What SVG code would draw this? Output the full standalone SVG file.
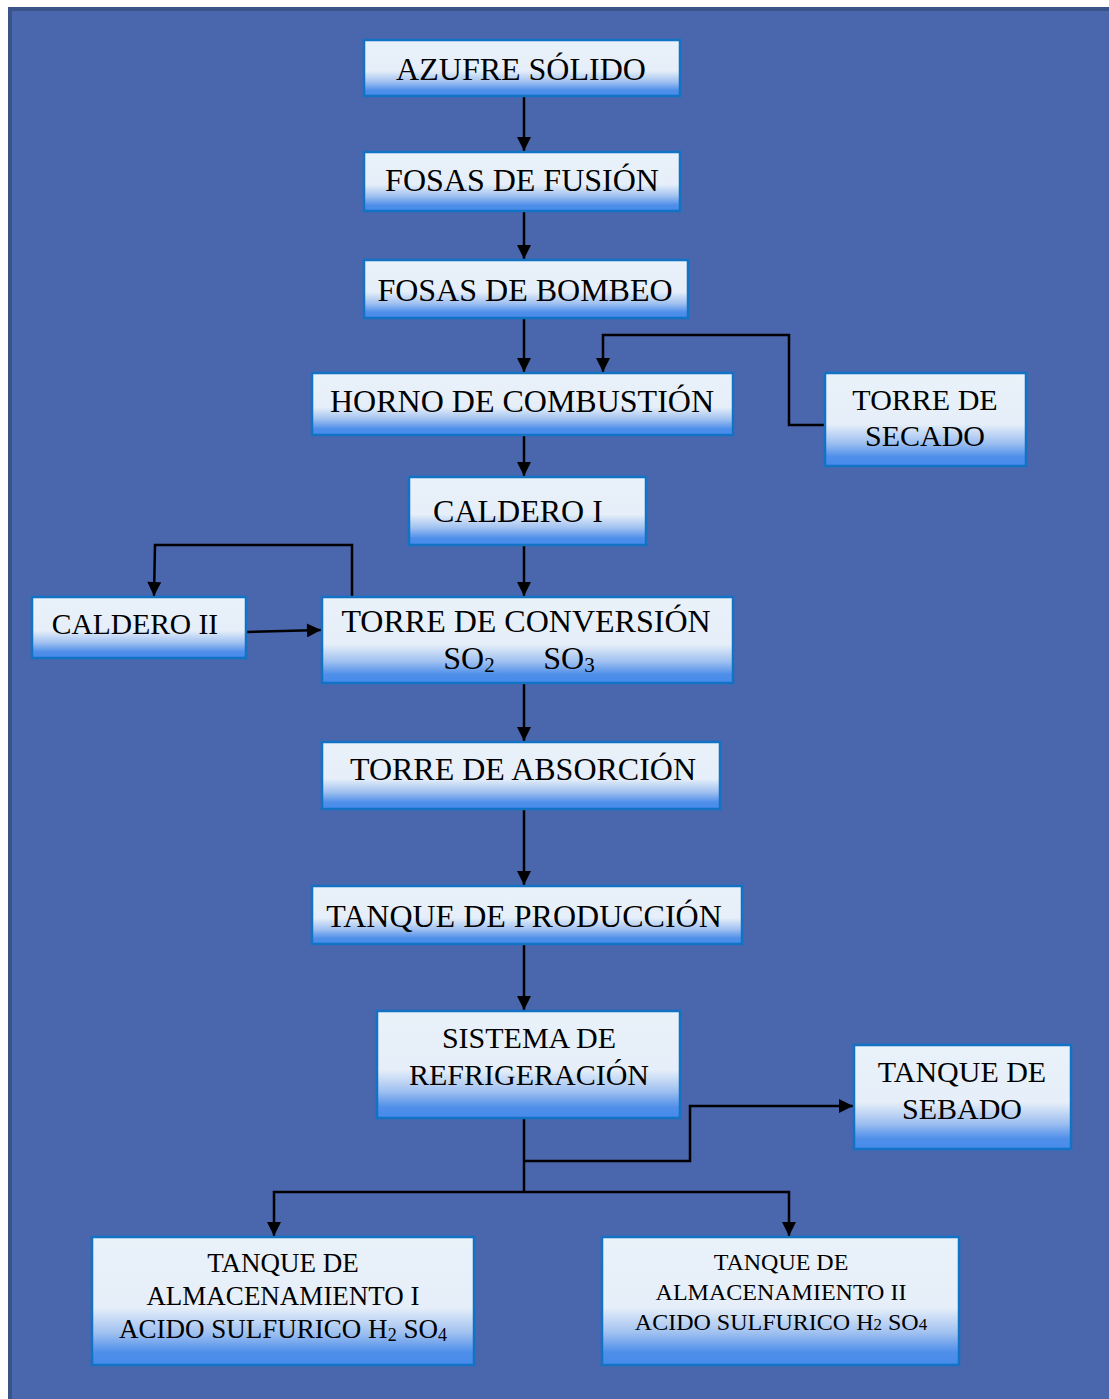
<svg xmlns="http://www.w3.org/2000/svg" width="1109" height="1399" viewBox="0 0 1109 1399">
  <defs>
    <linearGradient id="boxFill" x1="0" y1="0" x2="0" y2="1">
      <stop offset="0" stop-color="#e9f1f9"/>
      <stop offset="0.55" stop-color="#e6eff9"/>
      <stop offset="0.75" stop-color="#9fc0f0"/>
      <stop offset="0.9" stop-color="#4f8fea"/>
      <stop offset="1" stop-color="#468aea"/>
    </linearGradient>
    <marker id="arrow" viewBox="0 0 10 10" refX="10" refY="5" markerWidth="6.4" markerHeight="5.6" markerUnits="strokeWidth" orient="auto">
      <path d="M0,0 L10,5 L0,10 Z" fill="#000"/>
    </marker>
    <style>
      .box { fill: url(#boxFill); stroke: #1272c4; stroke-width: 2.5; }
      .lbl { font-family: "Liberation Serif", "Times New Roman", serif; fill: #000; text-anchor: middle; }
      .conn { fill: none; stroke: #000; stroke-width: 2.5; }
      .conn.a { marker-end: url(#arrow); }
    </style>
  </defs>

  <!-- page background -->
  <rect x="0" y="0" width="1109" height="1399" fill="#ffffff"/>
  <rect x="10" y="9" width="1101" height="1392" fill="#4a67ae" stroke="#3a5389" stroke-width="4"/>

  <!-- connectors -->
  <g id="connectors">
    <path class="conn a" d="M524,96 V151"/>
    <path class="conn a" d="M524,211 V259"/>
    <path class="conn a" d="M524,318 V372"/>
    <path class="conn a" d="M825,425 H789 V335 H603 V372"/>
    <path class="conn a" d="M524,435 V476"/>
    <path class="conn a" d="M524,545 V596"/>
    <path class="conn a" d="M352,597 V545 H155 L154,596"/>
    <path class="conn a" d="M246,632 L321,630"/>
    <path class="conn a" d="M524,683 V741"/>
    <path class="conn a" d="M524,809 V885"/>
    <path class="conn a" d="M524,944 V1010"/>
    <path class="conn" d="M524,1118 V1192"/>
    <path class="conn a" d="M524,1161 H690 V1106 H853"/>
    <path class="conn a" d="M524,1192 H274 V1236"/>
    <path class="conn a" d="M524,1192 H789 V1236"/>
  </g>

  <g id="azufre-solido">
    <rect class="box" x="364" y="40" width="316" height="56"/>
    <text class="lbl" x="521" y="80" font-size="32">AZUFRE SÓLIDO</text>
  </g>
  <g id="fosas-fusion">
    <rect class="box" x="364" y="152" width="316" height="59"/>
    <text class="lbl" x="522" y="191" font-size="32">FOSAS DE FUSIÓN</text>
  </g>
  <g id="fosas-bombeo">
    <rect class="box" x="364" y="260" width="324" height="58"/>
    <text class="lbl" x="525" y="301" font-size="32">FOSAS DE BOMBEO</text>
  </g>
  <g id="horno-combustion">
    <rect class="box" x="312" y="373" width="421" height="62"/>
    <text class="lbl" x="522" y="412" font-size="32">HORNO DE COMBUSTIÓN</text>
  </g>
  <g id="torre-secado">
    <rect class="box" x="825" y="373" width="201" height="93"/>
    <text class="lbl" x="925" y="410" font-size="30">TORRE DE</text>
    <text class="lbl" x="925" y="446" font-size="30">SECADO</text>
  </g>
  <g id="caldero-1">
    <rect class="box" x="409" y="477" width="237" height="68"/>
    <text class="lbl" x="518" y="522" font-size="32">CALDERO I</text>
  </g>
  <g id="caldero-2">
    <rect class="box" x="32" y="597" width="214" height="61"/>
    <text class="lbl" x="135" y="634" font-size="29.5">CALDERO II</text>
  </g>
  <g id="torre-conversion">
    <rect class="box" x="322" y="597" width="411" height="86"/>
    <text class="lbl" x="526" y="632" font-size="32">TORRE DE CONVERSIÓN</text>
    <text class="lbl" x="469" y="669" font-size="32">SO<tspan font-size="21" dy="3">2</tspan></text>
    <text class="lbl" x="569" y="669" font-size="32">SO<tspan font-size="21" dy="3">3</tspan></text>
  </g>
  <g id="torre-absorcion">
    <rect class="box" x="322" y="742" width="398" height="67"/>
    <text class="lbl" x="523" y="780" font-size="32">TORRE DE ABSORCIÓN</text>
  </g>
  <g id="tanque-produccion">
    <rect class="box" x="312" y="886" width="430" height="58"/>
    <text class="lbl" x="524" y="927" font-size="32">TANQUE DE PRODUCCIÓN</text>
  </g>
  <g id="sistema-refrigeracion">
    <rect class="box" x="377" y="1011" width="303" height="107"/>
    <text class="lbl" x="529" y="1048" font-size="30">SISTEMA DE</text>
    <text class="lbl" x="529" y="1085" font-size="30">REFRIGERACIÓN</text>
  </g>
  <g id="tanque-sebado">
    <rect class="box" x="854" y="1045" width="217" height="104"/>
    <text class="lbl" x="962" y="1082" font-size="30">TANQUE DE</text>
    <text class="lbl" x="962" y="1119" font-size="30">SEBADO</text>
  </g>
  <g id="tanque-almacenamiento-1">
    <rect class="box" x="92" y="1237" width="382" height="128"/>
    <text class="lbl" x="283" y="1272" font-size="27">TANQUE DE</text>
    <text class="lbl" x="283" y="1305" font-size="27">ALMACENAMIENTO I</text>
    <text class="lbl" x="283" y="1338" font-size="27">ACIDO SULFURICO H<tspan font-size="18" dy="3">2</tspan><tspan dy="-3"> SO</tspan><tspan font-size="18" dy="3">4</tspan></text>
  </g>
  <g id="tanque-almacenamiento-2">
    <rect class="box" x="602" y="1237" width="357" height="128"/>
    <text class="lbl" x="781" y="1270" font-size="24">TANQUE DE</text>
    <text class="lbl" x="781" y="1300" font-size="24">ALMACENAMIENTO II</text>
    <text class="lbl" x="781" y="1330" font-size="24">ACIDO SULFURICO H<tspan font-size="17">2</tspan> SO<tspan font-size="17">4</tspan></text>
  </g>
</svg>
